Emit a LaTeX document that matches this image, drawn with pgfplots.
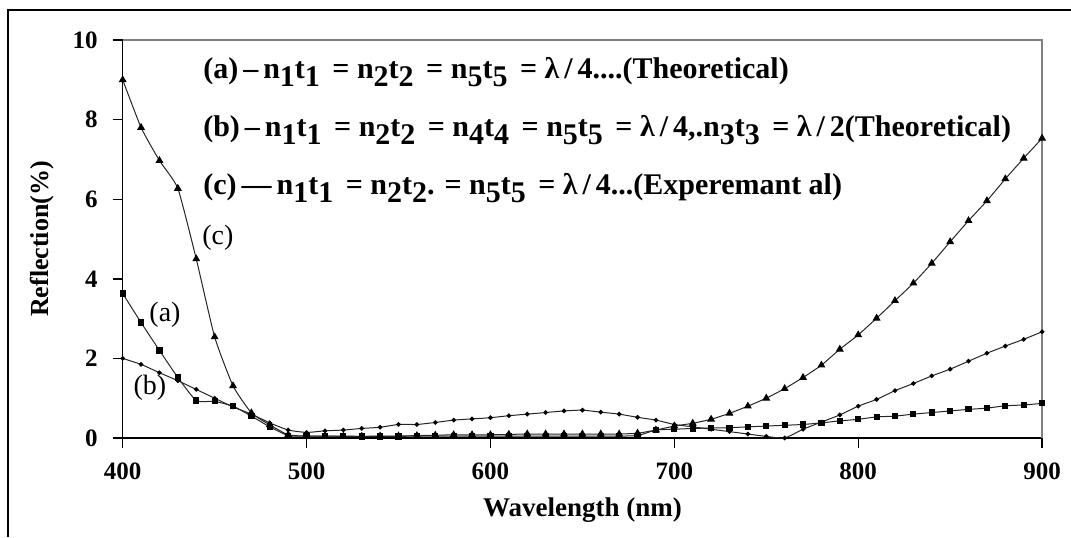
\documentclass[border=0pt]{standalone}
\usepackage{fontspec}
\setmainfont{Liberation Serif}
\usepackage{pgfplots}
\pgfplotsset{compat=1.18}
\usepackage{pgfplotstable}

\newcommand{\sbs}[1]{\raisebox{-0.6ex}{#1}}
\newcommand{\legfont}{\fontsize{15}{17}\selectfont\bfseries}

% reflection (%) vs wavelength (nm)
\pgfplotstableread{
x    a     b     c
400  3.63  2.00  9.00
410  2.90  1.85  7.80
420  2.20  1.64  6.97
430  1.52  1.44  6.27
440  0.94  1.22  4.50
450  0.92  1.00  2.54
460  0.80  0.78  1.31
470  0.55  0.60  0.63
480  0.28  0.38  0.33
490  0.06  0.20  0.08
500  0.05  0.14  0.05
510  0.05  0.18  0.05
520  0.05  0.20  0.04
530  0.04  0.24  0.04
540  0.04  0.27  0.05
550  0.04  0.34  0.05
560  0.05  0.34  0.06
570  0.05  0.39  0.07
580  0.05  0.45  0.08
590  0.05  0.48  0.08
600  0.05  0.51  0.08
610  0.05  0.56  0.09
620  0.05  0.60  0.10
630  0.05  0.64  0.10
640  0.05  0.68  0.10
650  0.05  0.70  0.10
660  0.05  0.65  0.10
670  0.05  0.60  0.10
680  0.06  0.52  0.12
690  0.20  0.45  0.20
700  0.22  0.34  0.30
710  0.24  0.28  0.37
720  0.25  0.22  0.47
730  0.26  0.16  0.62
740  0.28  0.10  0.80
750  0.30  0.04  1.00
760  0.32  0.00  1.24
770  0.34  0.22  1.52
780  0.38  0.40  1.83
790  0.43  0.58  2.23
800  0.47  0.80  2.59
810  0.53  0.97  3.01
820  0.55  1.19  3.45
830  0.60  1.37  3.89
840  0.64  1.56  4.39
850  0.68  1.73  4.93
860  0.72  1.93  5.46
870  0.75  2.13  5.96
880  0.81  2.31  6.51
890  0.83  2.48  7.03
900  0.87  2.67  7.53
}\refl

\begin{document}
\begin{tikzpicture}
\useasboundingbox (-61.35pt,-49.5pt) rectangle (474.15pt,219pt);
\begin{axis}[
    scale only axis,
    width=459.7pt, height=199pt,
    xmin=400, xmax=900, ymin=0, ymax=10,
    xtick={400,500,...,900}, ytick={0,2,...,10},
    axis lines=left, axis line style={-, line width=0.8pt},
    tick align=outside, major tick length=5pt,
    tick style={line width=0.7pt, black},
    /pgf/number format/assume math mode=true,
    ticklabel style={font=\fontsize{12.5}{14}\selectfont\bfseries},
    xticklabel style={yshift=-4pt},
    yticklabel style={xshift=-4pt},
    xlabel={Wavelength (nm)}, ylabel={Reflection(\%)},
    xlabel style={font=\fontsize{13.5}{15}\selectfont\bfseries, at={(axis description cs:0.5,-0.181)}, anchor=center},
    ylabel style={font=\fontsize{13}{15}\selectfont\bfseries, at={(axis description cs:-0.088,0.5)}, anchor=center},
    clip=false,
]
\addplot[black!85, line width=0.5pt, smooth, tension=0.3, mark=square*, mark size=1.3pt, mark options={black}] table[x=x, y=a] {\refl};
\addplot[black!85, line width=0.5pt, smooth, tension=0.3, mark=*, mark size=0.9pt, mark options={black}] table[x=x, y=b] {\refl};
\addplot[black!85, line width=0.5pt, smooth, tension=0.3, mark=triangle*, mark size=1.8pt, mark options={black}] table[x=x, y=c] {\refl};

\draw[gray, line width=0.8pt] (rel axis cs:0,1) -- (rel axis cs:1,1) -- (rel axis cs:1,0);

\node[anchor=west, font=\legfont] at (axis cs:440,9.2)
  {(a)\,–\,n\sbs1t\sbs1 \,= n\sbs2t\sbs2 \,= n\sbs5t\sbs5 \,= λ\,/\,4....(Theoretical)};
\node[anchor=west, font=\legfont] at (axis cs:440,7.74)
  {(b)\,–\,n\sbs1t\sbs1 \,= n\sbs2t\sbs2 \,= n\sbs4t\sbs4 \,= n\sbs5t\sbs5 \,= λ\,/\,4,.n\sbs3t\sbs3 \,= λ\,/\,2(Theoretical)};
\node[anchor=west, font=\legfont] at (axis cs:440,6.28)
  {(c)\,—\,n\sbs1t\sbs1 \,= n\sbs2t\sbs2. = n\sbs5t\sbs5 \,= λ\,/\,4...(Experemant al)};

\node[font=\fontsize{14}{16}\selectfont] at (axis cs:423,3.09) {(a)};
\node[font=\fontsize{14}{16}\selectfont] at (axis cs:414.8,1.26) {(b)};
\node[font=\fontsize{14}{16}\selectfont] at (axis cs:451.8,5.03) {(c)};
\end{axis}
\draw[line width=0.8pt] (-57.35pt,-49.5pt) -- (-57.35pt,214pt) -- (474.15pt,214pt);
\end{tikzpicture}
\end{document}
